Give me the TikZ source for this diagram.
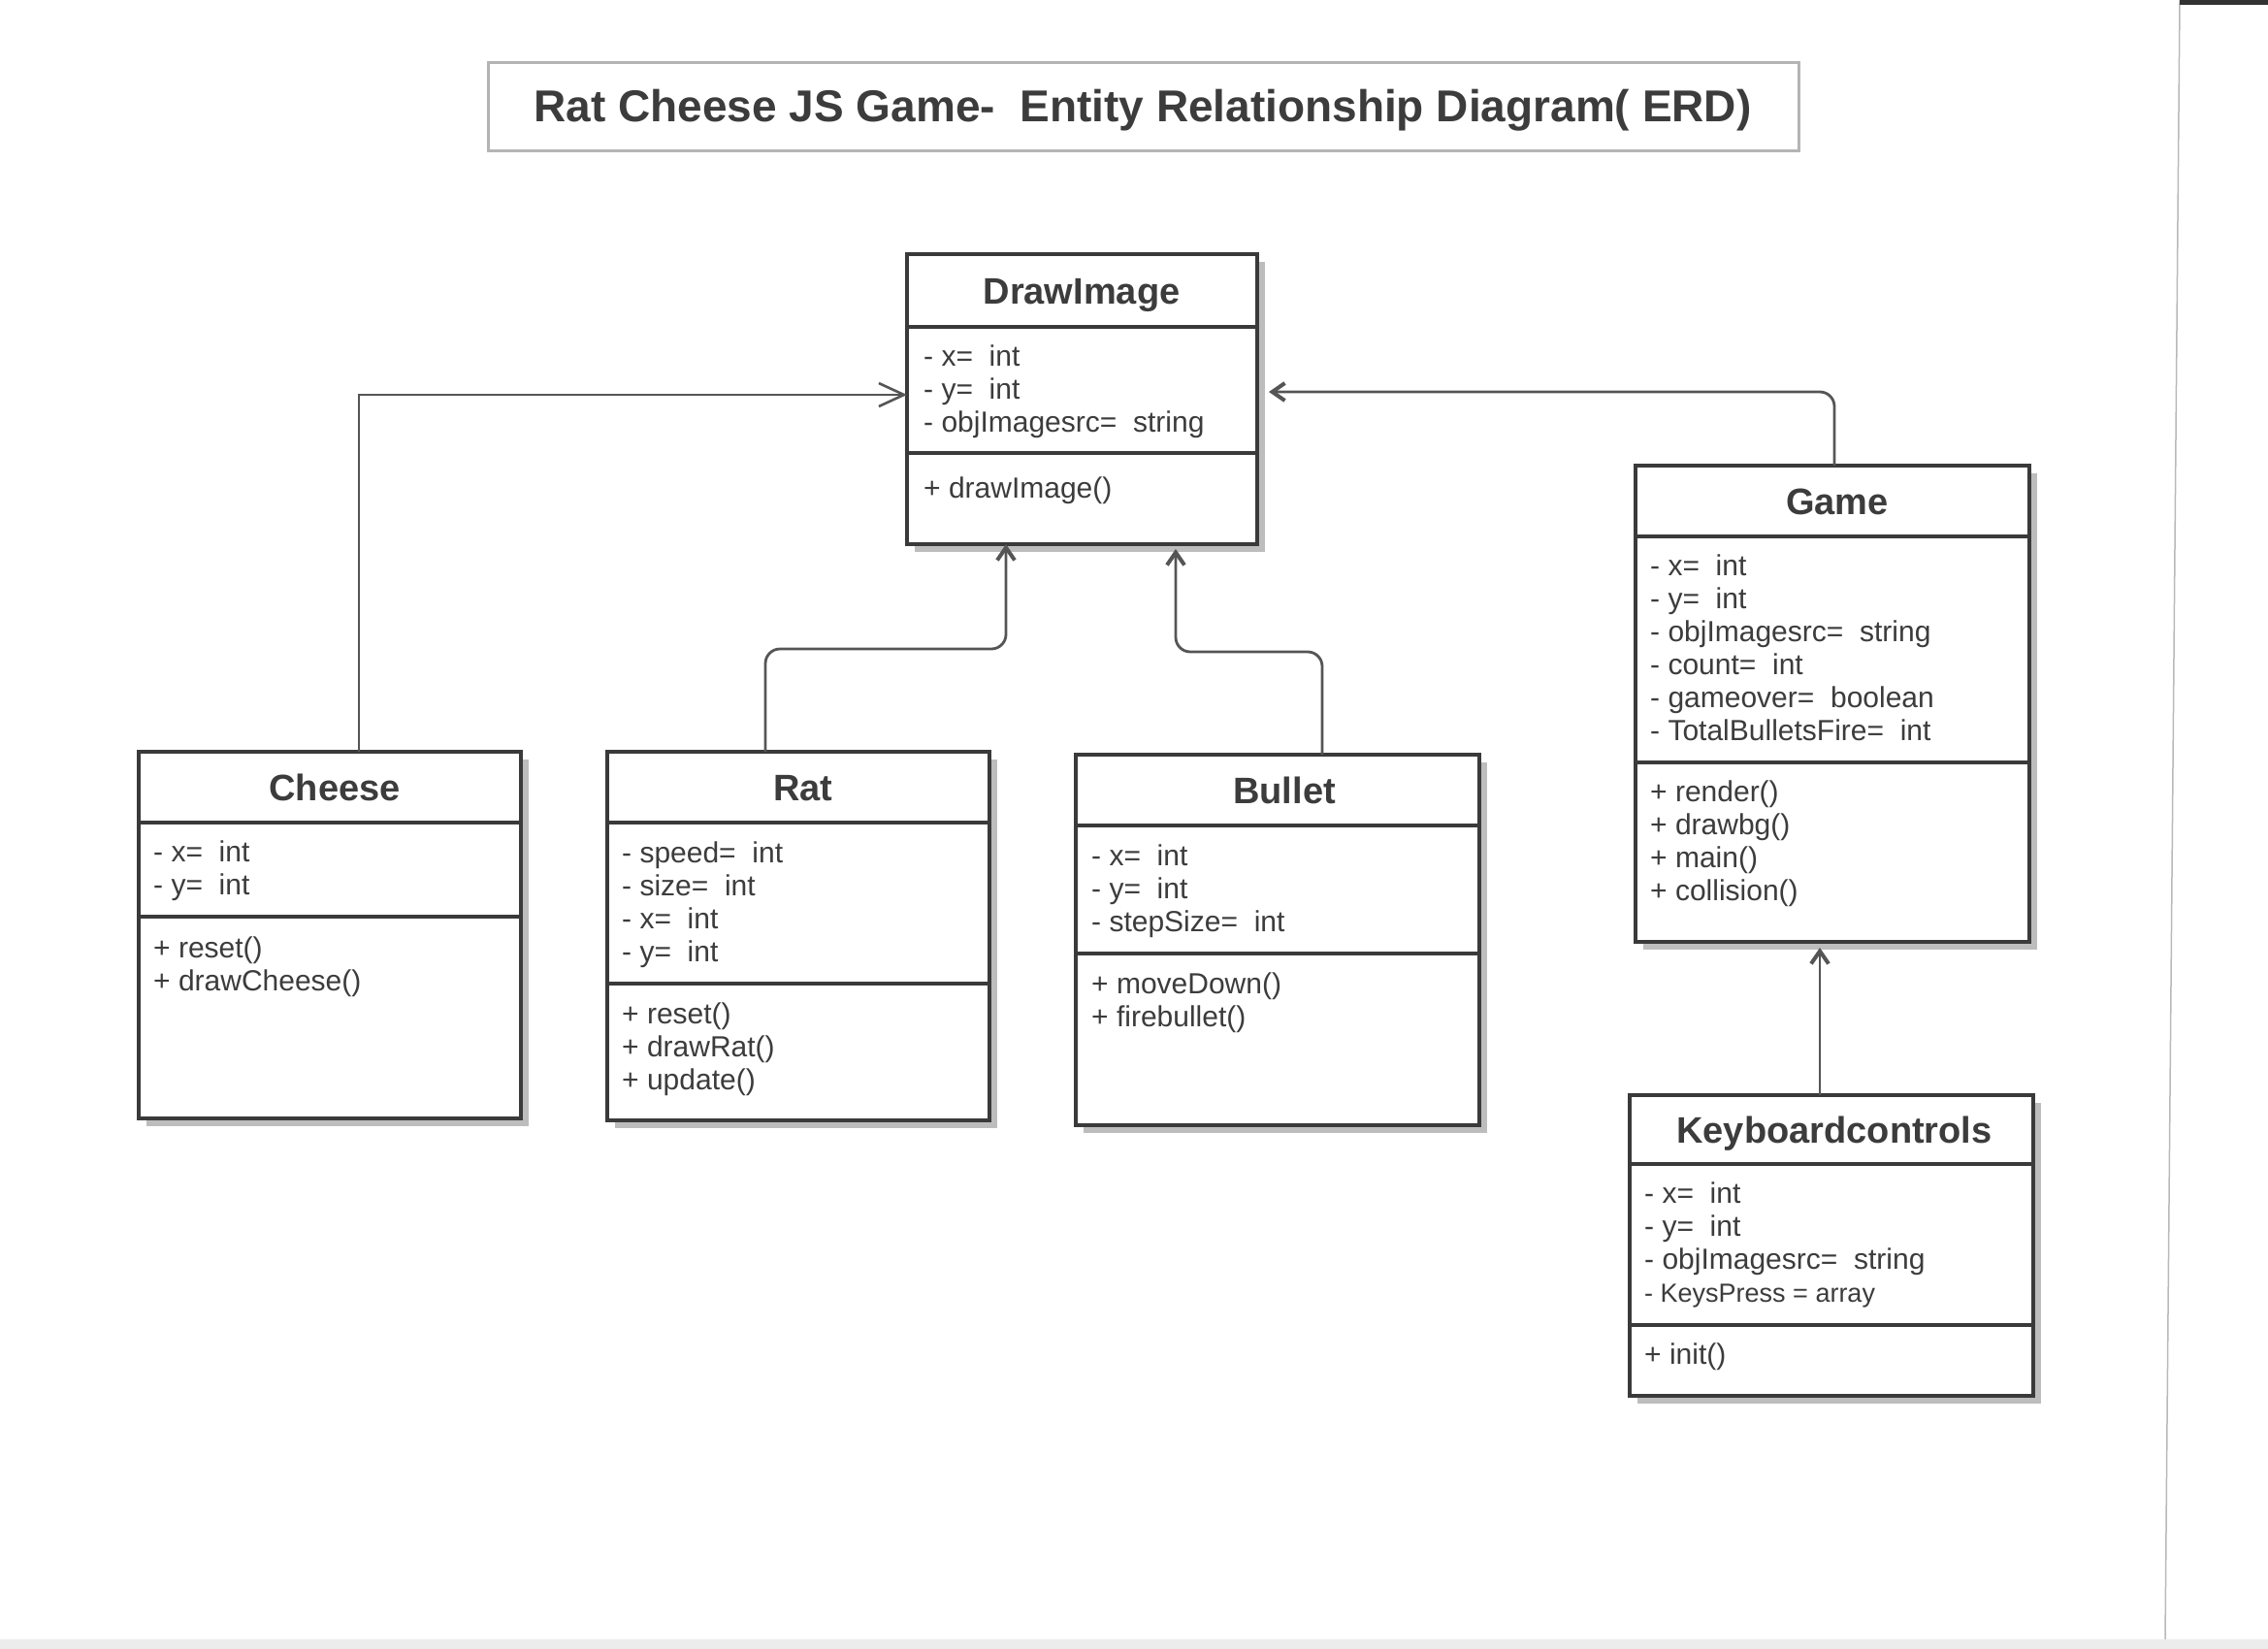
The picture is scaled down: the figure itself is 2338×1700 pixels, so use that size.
\documentclass[tikz,border=0pt]{standalone}
\usepackage{fontspec}
\setmainfont{Liberation Sans}
\usetikzlibrary{arrows.meta,shadows}
\definecolor{boxline}{HTML}{3A3A3A}
\definecolor{txtc}{HTML}{3C3C3C}
\definecolor{connc}{HTML}{555555}
\definecolor{shadowc}{HTML}{BDBDBD}
\definecolor{titleline}{HTML}{B4B4B4}
\newcommand\classlines[4]{\foreach \t [count=\i] in {#4} {\node[attrtext] (#1\i) at ({#2},{#3+(\i-1)*34}) {\t};}}
\begin{document}
\begin{tikzpicture}[x=1pt,y=-1pt,
  classbox/.style={draw=boxline, line width=4pt, fill=white, inner sep=0pt, outer sep=0pt, anchor=north west,
    drop shadow={shadow xshift=8pt, shadow yshift=-8pt, fill=shadowc, opacity=1}},
  sepline/.style={draw=boxline, line width=4pt},
  ctitle/.style={anchor=base, inner sep=0pt, text=txtc, font=\fontsize{38}{42}\selectfont\bfseries},
  attrtext/.style={anchor=base west, inner sep=0pt, text=txtc, font=\fontsize{30}{34}\selectfont},
  conn/.style={draw=connc, line width=2.8pt, rounded corners=15pt},
  smallhead/.style={-{Straight Barb[length=13pt,width=18pt,line width=4pt]}},
  bighead/.style={-{Straight Barb[length=26pt,width=24pt,line width=2.6pt]}}
]
\useasboundingbox (0,0) rectangle (2338,1700);
\fill[white] (0,0) rectangle (2338,1700);
% page edge of the scan
\draw[gray!55, line width=1.5pt] (2247,0) -- (2232,1690);
\fill[gray!15] (0,1690) rectangle (2338,1700);
\fill[black!80] (2247,0) rectangle (2338,5);

% title
\node[draw=titleline, line width=3pt, fill=white, inner sep=0pt, anchor=north west,
  minimum width=1351pt, minimum height=91pt] (titlebox) at (502,63) {};
\node[anchor=base, inner sep=0pt, text=txtc, font=\fontsize{46}{50}\selectfont\bfseries] (titletext) at (1178,125)
  {Rat Cheese JS Game-\ \ Entity Relationship Diagram( ERD)};

% DrawImage
\node[classbox, minimum width=361pt, minimum height=299pt] (drawimage) at (935,262) {};
\draw[sepline] (935,337) -- (1296,337);
\draw[sepline] (935,467) -- (1296,467);
\node[ctitle] (drawimage-t) at (1115,313) {DrawImage};
\classlines{drawimage-a}{952}{377}{- x=~~int, - y=~~int, - objImagesrc=~~string}
\classlines{drawimage-m}{952}{513}{+ drawImage()}

% Cheese
\node[classbox, minimum width=394pt, minimum height=378pt] (cheese) at (143,775) {};
\draw[sepline] (143,848) -- (537,848);
\draw[sepline] (143,945) -- (537,945);
\node[ctitle] (cheese-t) at (345,825) {Cheese};
\classlines{cheese-a}{158}{888}{- x=~~int, - y=~~int}
\classlines{cheese-m}{158}{987}{+ reset(), + drawCheese()}

% Rat
\node[classbox, minimum width=394pt, minimum height=380pt] (rat) at (626,775) {};
\draw[sepline] (626,848) -- (1020,848);
\draw[sepline] (626,1014) -- (1020,1014);
\node[ctitle] (rat-t) at (828,825) {Rat};
\classlines{rat-a}{641}{889}{- speed=~~int, - size=~~int, - x=~~int, - y=~~int}
\classlines{rat-m}{641}{1055}{+ reset(), + drawRat(), + update()}

% Bullet
\node[classbox, minimum width=416pt, minimum height=382pt] (bullet) at (1109,778) {};
\draw[sepline] (1109,851) -- (1525,851);
\draw[sepline] (1109,983) -- (1525,983);
\node[ctitle] (bullet-t) at (1324,828) {Bullet};
\classlines{bullet-a}{1125}{892}{- x=~~int, - y=~~int, - stepSize=~~int}
\classlines{bullet-m}{1125}{1024}{+ moveDown(), + firebullet()}

% Game
\node[classbox, minimum width=406pt, minimum height=491pt] (game) at (1686,480) {};
\draw[sepline] (1686,553) -- (2092,553);
\draw[sepline] (1686,786) -- (2092,786);
\node[ctitle] (game-t) at (1894,530) {Game};
\classlines{game-a}{1701}{593}{- x=~~int, - y=~~int, - objImagesrc=~~string, - count=~~int, - gameover=~~boolean, - TotalBulletsFire=~~int}
\classlines{game-m}{1701}{826}{+ render(), + drawbg(), + main(), + collision()}

% Keyboardcontrols
\node[classbox, minimum width=416pt, minimum height=310pt] (keyboard) at (1680,1129) {};
\draw[sepline] (1680,1200) -- (2096,1200);
\draw[sepline] (1680,1366) -- (2096,1366);
\node[ctitle] (keyboard-t) at (1891,1178) {Keyboardcontrols};
\classlines{keyboard-a}{1695}{1240}{- x=~~int, - y=~~int, - objImagesrc=~~string, {\fontsize{27}{30}\selectfont - KeysPress = array}}
\classlines{keyboard-m}{1695}{1406}{+ init()}

% connectors
\coordinate (k1) at (370,407);
\draw[conn, rounded corners=0pt, line width=2.4pt, bighead] (cheese.north -| k1) |- (drawimage.west |- k1);

\coordinate (r1) at (789,669);
\coordinate (r2) at (1037,669);
\draw[conn, smallhead] (rat.north -| r1) -- (r1) -- (r2) -- (drawimage.south -| r2);

\coordinate (b1) at (1363,672);
\coordinate (b2) at (1212,672);
\draw[conn, smallhead, shorten >=5pt] (bullet.north -| b1) -- (b1) -- (b2) -- (drawimage.south -| b2);

\coordinate (g1) at (1891,404);
\draw[conn, smallhead, shorten >=12pt] (game.north -| g1) -- (g1) -- (drawimage.east |- g1);

\coordinate (kb1) at (1876,1100);
\draw[conn, smallhead, shorten >=6pt] (keyboard.north -| kb1) -- (game.south -| kb1);
\end{tikzpicture}
\end{document}
